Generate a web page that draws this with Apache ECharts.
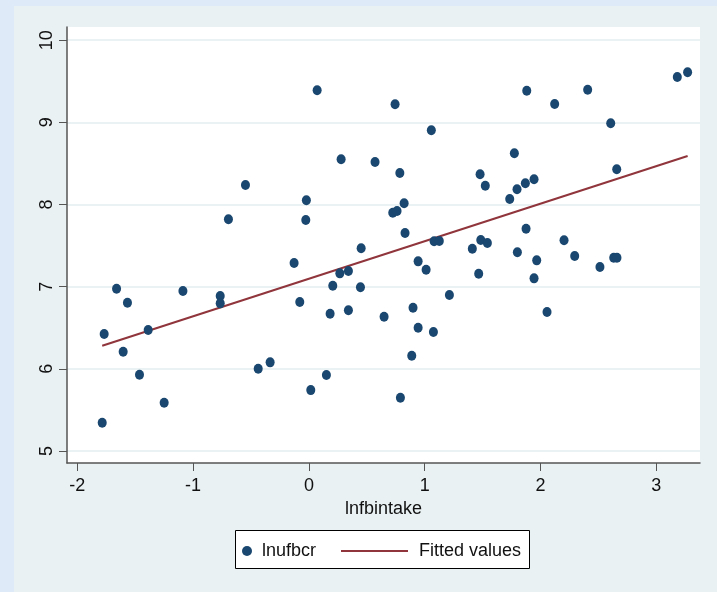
<!DOCTYPE html>
<html>
<head>
<meta charset="utf-8">
<script src="https://cdn.jsdelivr.net/npm/echarts@6/dist/echarts.min.js"></script>
<style>
  html, body { margin: 0; padding: 0; background: #dfeaf8; }
  #wrap { position: relative; width: 717px; height: 592px; overflow: hidden; }
  #inner { position: absolute; left: 14px; top: 6px; width: 703px; height: 586px; background: #eaf1f3; }
  #chart { position: absolute; left: 0; top: 0; width: 717px; height: 592px; }
</style>
</head>
<body>
<div id="wrap"><div id="inner"></div><div id="chart"></div></div>
<script>
const xTicks = [-2, -1, 0, 1, 2, 3];
const yTicks = [5, 6, 7, 8, 9, 10];
const xName = 'lnfbintake';
const scatterName = 'lnufbcr';
const fitName = 'Fitted values';

const xVals = [
  -1.785, -1.768, -1.661, -1.604, -1.567, -1.463, -1.388, -1.250, -1.088, -0.766,
  -0.766, -0.695, -0.548, -0.438, -0.335, -0.128, -0.079, -0.027, -0.022, 0.016,
  0.071, 0.151, 0.183, 0.206, 0.267, 0.278, 0.341, 0.341, 0.445, 0.451,
  0.571, 0.649, 0.724, 0.744, 0.761, 0.785, 0.790, 0.822, 0.830, 0.888,
  0.899, 0.943, 0.943, 1.012, 1.057, 1.075, 1.081, 1.126, 1.213, 1.411,
  1.466, 1.478, 1.484, 1.523, 1.541, 1.734, 1.774, 1.797, 1.800, 1.869,
  1.875, 1.881, 1.944, 1.944, 1.967, 2.056, 2.122, 2.203, 2.295, 2.407,
  2.513, 2.606, 2.632, 2.658, 2.660, 3.181, 3.270
];
const yVals = [
  5.343, 6.423, 6.975, 6.208, 6.804, 5.928, 6.472, 5.587, 6.947, 6.886,
  6.797, 7.820, 8.237, 6.001, 6.079, 7.288, 6.813, 7.811, 8.051, 5.741,
  9.390, 5.924, 6.670, 7.011, 7.162, 8.550, 7.190, 6.712, 6.992, 7.467,
  8.517, 6.634, 7.900, 9.220, 7.921, 8.383, 5.648, 8.014, 7.653, 6.159,
  6.743, 6.500, 7.308, 7.206, 8.903, 6.448, 7.552, 7.555, 6.898, 7.462,
  7.157, 8.367, 7.568, 8.229, 7.531, 8.067, 8.623, 8.185, 7.418, 8.258,
  7.705, 9.385, 8.307, 7.101, 7.320, 6.691, 9.223, 7.564, 7.373, 9.397,
  7.239, 8.988, 7.352, 8.428, 7.352, 9.552, 9.609
];
const fitX = [-1.785, 3.270];
const fitY = [6.28, 8.59];

const chart = echarts.init(document.getElementById('chart'), null, { renderer: 'canvas' });
const FONT = 'Liberation Sans, Arial, sans-serif';
const axisColor = '#555555';

chart.setOption({
  backgroundColor: 'transparent',
  animation: false,
  textStyle: { fontFamily: FONT },
  grid: {
    left: 67, right: 17, top: 27, bottom: 129,
    show: true, backgroundColor: '#ffffff', borderWidth: 0
  },
  xAxis: {
    type: 'value',
    min: -2.089, max: 3.377,
    name: xName,
    nameLocation: 'middle',
    nameGap: 36,
    nameTextStyle: { fontSize: 18, color: '#111', fontFamily: FONT },
    axisLine: { show: true, onZero: false, lineStyle: { color: axisColor, width: 1.5 } },
    axisTick: { show: true, length: 8, lineStyle: { color: axisColor, width: 1 }, customValues: xTicks },
    axisLabel: { fontSize: 18, color: '#111', margin: 14, customValues: xTicks, fontFamily: FONT },
    splitLine: { show: false }
  },
  yAxis: {
    type: 'value',
    min: 4.854, max: 10.16,
    axisLine: { show: true, onZero: false, lineStyle: { color: axisColor, width: 1.5 } },
    axisTick: { show: true, length: 8, lineStyle: { color: axisColor, width: 1 }, customValues: yTicks },
    axisLabel: { fontSize: 18, color: '#111', margin: 11, rotate: 90, customValues: yTicks, fontFamily: FONT },
    splitLine: { show: true, lineStyle: { color: '#eaf2f3', width: 2 } }
  },
  graphic: [{
    type: 'rect',
    z: 1,
    shape: { x: 235.5, y: 530.5, width: 294, height: 38 },
    style: { fill: '#ffffff', stroke: '#000000', lineWidth: 1 }
  }],
  legend: [{
    data: [scatterName],
    left: 242, top: 542,
    padding: 0,
    itemWidth: 20, itemHeight: 10,
    textStyle: { fontSize: 18, color: '#111', fontFamily: FONT },
    selectedMode: false
  }, {
    data: [{ name: fitName, icon: 'rect' }],
    left: 341, top: 542,
    padding: 0,
    itemWidth: 67, itemHeight: 2,
    textStyle: { fontSize: 18, color: '#111', fontFamily: FONT, padding: [0, 0, 0, 6] },
    selectedMode: false
  }],
  series: [{
    name: scatterName,
    type: 'scatter',
    symbol: 'circle',
    symbolSize: [9, 10],
    itemStyle: { color: '#1a476f', opacity: 1 },
    data: xVals.map((x, i) => [x, yVals[i]]),
    z: 3
  }, {
    name: fitName,
    type: 'line',
    symbol: 'none',
    showSymbol: false,
    lineStyle: { color: '#90353b', width: 2 },
    itemStyle: { color: '#90353b' },
    data: fitX.map((x, i) => [x, fitY[i]]),
    z: 2
  }]
});
</script>
</body>
</html>
